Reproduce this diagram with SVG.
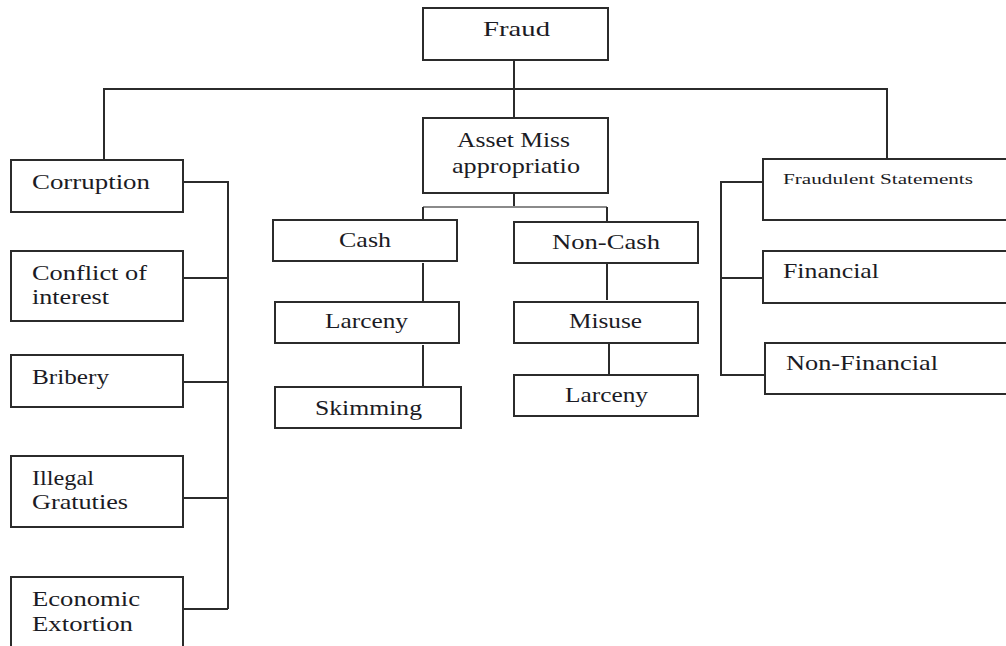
<svg xmlns="http://www.w3.org/2000/svg" width="1006" height="646" viewBox="0 0 1006 646">
<style>
.box{fill:#fff;stroke:#2b2b2b;stroke-width:2}
.ln{fill:none;stroke:#2b2b2b;stroke-width:2}
.gl{fill:none;stroke:#8a8a8a;stroke-width:2}
text{font-family:"Liberation Serif","Times New Roman",serif;font-size:22px;fill:#1b1b24}
.sm{font-size:14px}
</style>
<rect width="1006" height="646" fill="#fff"/>
<g id="connectors">
<path class="ln" d="M514 60V118M104 160V89H887V160"/>
<path class="ln" d="M514 193V207"/>
<path class="gl" d="M423 207H607"/>
<path class="ln" d="M423 207V220M607 207V222"/>
<path class="ln" d="M423 263V303M423 345V387M607 263V300M609 343V376"/>
<path class="ln" d="M183 182H228V609M183 278H228M183 382H228M183 498H228M183 609H228"/>
<path class="ln" d="M763 182H721V375H765M721 278H763"/>
</g>
<g id="fraud"><rect class="box" x="423" y="8" width="185" height="52"/><text x="483" y="36" textLength="67" lengthAdjust="spacingAndGlyphs">Fraud</text></g>
<g id="asset"><rect class="box" x="423" y="118" width="185" height="75"/><text x="457" y="147" textLength="113" lengthAdjust="spacingAndGlyphs">Asset Miss</text><text x="452" y="173" textLength="128" lengthAdjust="spacingAndGlyphs">appropriatio</text></g>
<g id="corruption"><rect class="box" x="11" y="160" width="172" height="52"/><text x="32" y="189" textLength="118" lengthAdjust="spacingAndGlyphs">Corruption</text></g>
<g id="conflict"><rect class="box" x="11" y="251" width="172" height="70"/><text x="32" y="280" textLength="115" lengthAdjust="spacingAndGlyphs">Conflict of</text><text x="32" y="304" textLength="77" lengthAdjust="spacingAndGlyphs">interest</text></g>
<g id="bribery"><rect class="box" x="11" y="355" width="172" height="52"/><text x="32" y="384" textLength="77" lengthAdjust="spacingAndGlyphs">Bribery</text></g>
<g id="illegal"><rect class="box" x="11" y="456" width="172" height="71"/><text x="32" y="485" textLength="62" lengthAdjust="spacingAndGlyphs">Illegal</text><text x="32" y="509" textLength="96" lengthAdjust="spacingAndGlyphs">Gratuties</text></g>
<g id="economic"><rect class="box" x="11" y="577" width="172" height="80"/><text x="32" y="606" textLength="108" lengthAdjust="spacingAndGlyphs">Economic</text><text x="32" y="631" textLength="101" lengthAdjust="spacingAndGlyphs">Extortion</text></g>
<g id="cash"><rect class="box" x="273" y="220" width="184" height="41"/><text x="339" y="247" textLength="52" lengthAdjust="spacingAndGlyphs">Cash</text></g>
<g id="noncash"><rect class="box" x="514" y="222" width="184" height="41"/><text x="552" y="249" textLength="108" lengthAdjust="spacingAndGlyphs">Non-Cash</text></g>
<g id="larceny1"><rect class="box" x="275" y="302" width="184" height="41"/><text x="325" y="328" textLength="83" lengthAdjust="spacingAndGlyphs">Larceny</text></g>
<g id="skimming"><rect class="box" x="275" y="387" width="186" height="41"/><text x="315" y="415" textLength="107" lengthAdjust="spacingAndGlyphs">Skimming</text></g>
<g id="misuse"><rect class="box" x="514" y="302" width="184" height="41"/><text x="569" y="328" textLength="73" lengthAdjust="spacingAndGlyphs">Misuse</text></g>
<g id="larceny2"><rect class="box" x="514" y="375" width="184" height="41"/><text x="565" y="402" textLength="83" lengthAdjust="spacingAndGlyphs">Larceny</text></g>
<g id="fraudulent"><rect class="box" x="763" y="159" width="260" height="61"/><text class="sm" x="783" y="184" textLength="190" lengthAdjust="spacingAndGlyphs">Fraudulent Statements</text></g>
<g id="financial"><rect class="box" x="763" y="251" width="260" height="52"/><text x="783" y="278" textLength="96" lengthAdjust="spacingAndGlyphs">Financial</text></g>
<g id="nonfinancial"><rect class="box" x="765" y="343" width="260" height="51"/><text x="786" y="370" textLength="152" lengthAdjust="spacingAndGlyphs">Non-Financial</text></g>
</svg>
